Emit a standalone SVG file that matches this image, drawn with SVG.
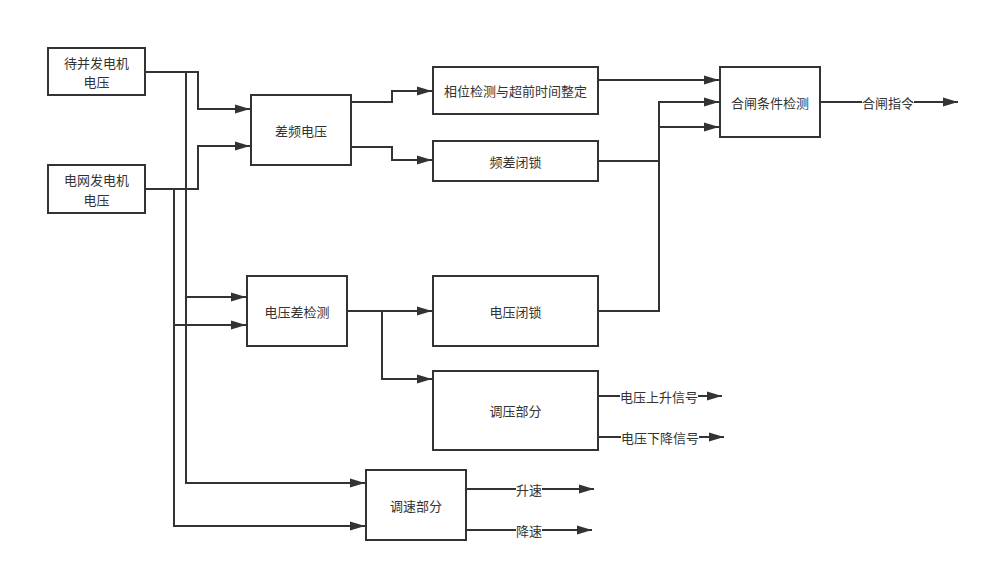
<svg xmlns="http://www.w3.org/2000/svg" width="988" height="572" viewBox="0 0 988 572">
<style>
.box{fill:#fff;stroke:#333;stroke-width:2}
.ln{fill:none;stroke:#333;stroke-width:2}
.t{font-family:"Noto Sans CJK SC","Noto Sans",sans-serif;font-size:13px;fill:#333;text-anchor:middle;dominant-baseline:central}
.bg{fill:#fff}
</style>
<defs>
<marker id="arr" markerUnits="userSpaceOnUse" markerWidth="16" markerHeight="10" refX="15" refY="5" orient="auto">
<path d="M0,0.5 L15,5 L0,9.5 z" fill="#333"/>
</marker>
</defs>
<rect width="988" height="572" fill="#fff"/>
<g id="connectors">
<path class="ln" d="M145,72 H198 V109 H250" marker-end="url(#arr)"/>
<path class="ln" d="M145,189 H198 V146 H250" marker-end="url(#arr)"/>
<path class="ln" d="M186,72 V483 H365" marker-end="url(#arr)"/>
<path class="ln" d="M186,297 H246" marker-end="url(#arr)"/>
<path class="ln" d="M174,189 V526 H365" marker-end="url(#arr)"/>
<path class="ln" d="M174,325 H246" marker-end="url(#arr)"/>
<path class="ln" d="M351,102 H392 V91 H432" marker-end="url(#arr)"/>
<path class="ln" d="M351,147 H392 V160 H432" marker-end="url(#arr)"/>
<path class="ln" d="M598,80 H719" marker-end="url(#arr)"/>
<path class="ln" d="M598,161 H659"/>
<path class="ln" d="M598,311 H659 V102 H719" marker-end="url(#arr)"/>
<path class="ln" d="M659,127 H719" marker-end="url(#arr)"/>
<path class="ln" d="M820,102 H958" marker-end="url(#arr)"/>
<path class="ln" d="M347,311 H432" marker-end="url(#arr)"/>
<path class="ln" d="M382,311 V379 H432" marker-end="url(#arr)"/>
<path class="ln" d="M598,396 H722" marker-end="url(#arr)"/>
<path class="ln" d="M598,437 H724" marker-end="url(#arr)"/>
<path class="ln" d="M466,489 H594" marker-end="url(#arr)"/>
<path class="ln" d="M466,530 H592" marker-end="url(#arr)"/>
<rect class="bg" x="862" y="94" width="52" height="16"/>
<text class="t" x="888" y="102">合闸指令</text>
<rect class="bg" x="620" y="388" width="78" height="16"/>
<text class="t" x="659" y="396">电压上升信号</text>
<rect class="bg" x="621" y="429" width="78" height="16"/>
<text class="t" x="660" y="437">电压下降信号</text>
<rect class="bg" x="516" y="481" width="26" height="16"/>
<text class="t" x="529" y="489">升速</text>
<rect class="bg" x="516" y="522" width="26" height="16"/>
<text class="t" x="529" y="530">降速</text>
</g>
<g id="n1"><rect class="box" x="48" y="48" width="97" height="47"/><text class="t" x="96.5" y="62">待并发电机<tspan x="96.5" dy="19">电压</tspan></text></g>
<g id="n2"><rect class="box" x="48" y="165" width="97" height="48"/><text class="t" x="96.5" y="179.5">电网发电机<tspan x="96.5" dy="19">电压</tspan></text></g>
<g id="n3"><rect class="box" x="251" y="95" width="100" height="70"/><text class="t" x="301" y="130">差频电压</text></g>
<g id="n4"><rect class="box" x="433" y="67" width="165" height="47"/><text class="t" x="515.5" y="90.5">相位检测与超前时间整定</text></g>
<g id="n5"><rect class="box" x="433" y="141" width="165" height="40"/><text class="t" x="515.5" y="161">频差闭锁</text></g>
<g id="n6"><rect class="box" x="720" y="67" width="100" height="70"/><text class="t" x="770" y="102">合闸条件检测</text></g>
<g id="n7"><rect class="box" x="247" y="276" width="100" height="70"/><text class="t" x="297" y="311">电压差检测</text></g>
<g id="n8"><rect class="box" x="433" y="276" width="165" height="70"/><text class="t" x="515.5" y="311">电压闭锁</text></g>
<g id="n9"><rect class="box" x="433" y="371" width="165" height="79"/><text class="t" x="515.5" y="410.5">调压部分</text></g>
<g id="n10"><rect class="box" x="366" y="470" width="100" height="70"/><text class="t" x="416" y="505">调速部分</text></g>
</svg>
